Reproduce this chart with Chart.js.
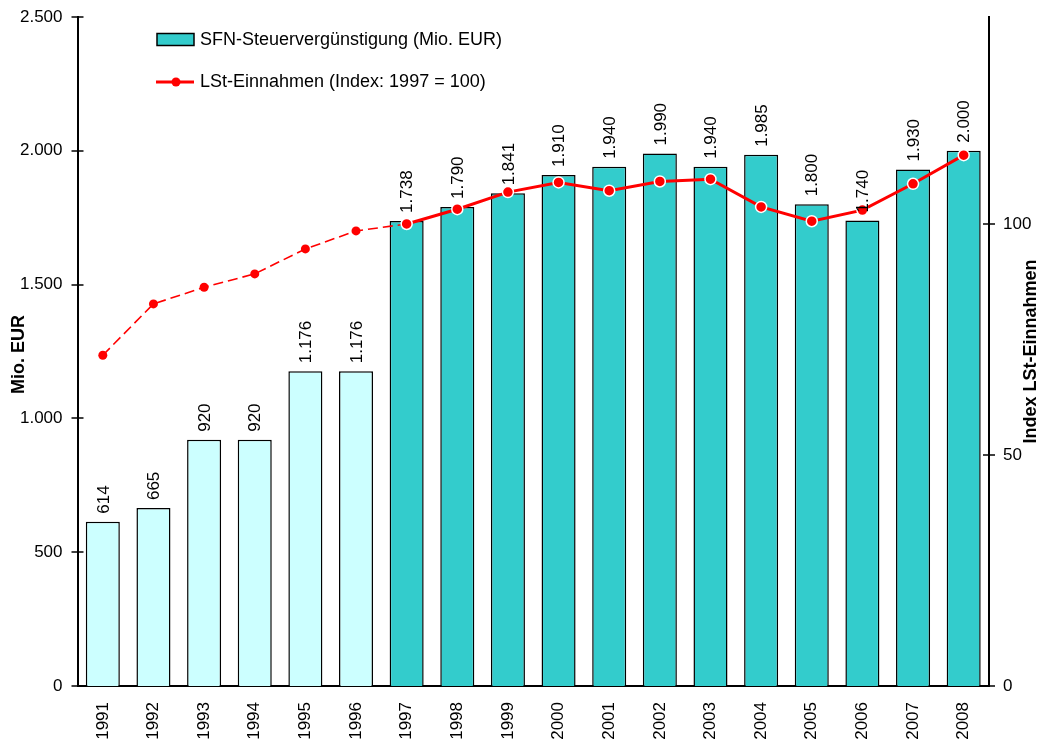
<!DOCTYPE html>
<html>
<head>
<meta charset="utf-8">
<script src="https://cdn.jsdelivr.net/npm/chart.js@4/dist/chart.umd.min.js"></script>
<style>
html,body{margin:0;padding:0;background:#fff;}
#wrap{width:1042px;height:742px;position:relative;}
</style>
</head>
<body>
<div id="wrap"><canvas id="c" width="1042" height="742"></canvas></div>
<script>
const years = ['1991','1992','1993','1994','1995','1996','1997','1998','1999','2000','2001','2002','2003','2004','2005','2006','2007','2008'];
const sfnValues = [614,665,920,920,1176,1176,1738,1790,1841,1910,1940,1990,1940,1985,1800,1740,1930,2000];
const lstIndex = [71.6,82.7,86.3,89.2,94.6,98.5,100,103.2,106.9,109.0,107.2,109.2,109.7,103.7,100.6,103.0,108.7,114.9];
const leftTicks = [0,500,1000,1500,2000,2500];
const rightTicks = [0,50,100];
const baseYearIdx = 6;
const barLabel = 'SFN-Steuervergünstigung (Mio. EUR)';
const lineLabel = 'LSt-Einnahmen (Index: 1997 = 100)';
const leftTitle = 'Mio. EUR';
const rightTitle = 'Index LSt-Einnahmen';

const FONT = '"Liberation Sans", Arial, sans-serif';
const fmt = v => String(v).replace(/\B(?=(\d{3})+(?!\d))/g, '.');

const barColors = years.map((y,i) => i < baseYearIdx ? '#CCFFFF' : '#33CCCC');
const dashedData = lstIndex.map((v,i) => i <= baseYearIdx ? v : null);
const solidData = lstIndex.map((v,i) => i >= baseYearIdx ? v : null);

const AREA = { left: 77.5, right: 989, top: 17, bottom: 686 };

const extrasPlugin = {
  id: 'extras',
  afterDatasetsDraw(chart) {
    const ctx = chart.ctx;
    const meta = chart.getDatasetMeta(2);
    ctx.save();
    ctx.fillStyle = '#000';
    ctx.font = '17px ' + FONT;
    ctx.textAlign = 'left';
    ctx.textBaseline = 'middle';
    meta.data.forEach((bar, i) => {
      ctx.save();
      ctx.translate(bar.x + 1, bar.y - 8);
      ctx.rotate(-Math.PI / 2);
      ctx.fillText(fmt(sfnValues[i]), 0, 0);
      ctx.restore();
    });
    ctx.restore();
  },
  afterDraw(chart) {
    const ctx = chart.ctx;
    const yl = chart.scales.y, yr = chart.scales.y1;
    ctx.save();
    ctx.strokeStyle = '#000';
    ctx.lineWidth = 1.5;
    leftTicks.forEach(v => {
      const p = Math.round(yl.getPixelForValue(v));
      ctx.beginPath(); ctx.moveTo(yl.right - 6, p); ctx.lineTo(yl.right + 6, p); ctx.stroke();
    });
    rightTicks.forEach(v => {
      const p = Math.round(yr.getPixelForValue(v));
      ctx.beginPath(); ctx.moveTo(yr.left - 6, p); ctx.lineTo(yr.left + 6, p); ctx.stroke();
    });
    ctx.fillStyle = '#000';
    ctx.font = 'bold 18px ' + FONT;
    ctx.textAlign = 'center';
    ctx.textBaseline = 'middle';
    const midY = (chart.chartArea.top + chart.chartArea.bottom) / 2;
    ctx.save();
    ctx.translate(1031, midY);
    ctx.rotate(-Math.PI / 2);
    ctx.fillText(rightTitle, 0, 0);
    ctx.restore();
    ctx.save();
    ctx.translate(19, midY + 3);
    ctx.rotate(-Math.PI / 2);
    ctx.fillText(leftTitle, 0, 0);
    ctx.restore();
    // legend
    ctx.lineWidth = 1.5;
    ctx.fillStyle = '#33CCCC';
    ctx.fillRect(157, 33.5, 37, 12);
    ctx.strokeStyle = '#000';
    ctx.strokeRect(157, 33.5, 37, 12);
    ctx.strokeStyle = '#FF0000';
    ctx.lineWidth = 3;
    ctx.beginPath(); ctx.moveTo(156, 82); ctx.lineTo(194, 82); ctx.stroke();
    ctx.fillStyle = '#FF0000';
    ctx.beginPath(); ctx.arc(176, 82, 4.5, 0, Math.PI * 2); ctx.fill();
    ctx.fillStyle = '#000';
    ctx.font = '18px ' + FONT;
    ctx.textAlign = 'left';
    ctx.fillText(barLabel, 200, 40);
    ctx.fillText(lineLabel, 200, 82);
    ctx.restore();
  }
};

function fixV(s, w) { s.width = w; s.paddingTop = 0; s.paddingBottom = 0; }

new Chart(document.getElementById('c'), {
  data: {
    labels: years,
    datasets: [
      {
        type: 'line', label: lineLabel, data: solidData, yAxisID: 'y1', order: 0,
        borderColor: '#FF0000', borderWidth: 3, tension: 0,
        pointRadius: 5.5, pointBackgroundColor: '#FF0000', pointBorderColor: '#FFFFFF', pointBorderWidth: 1.5,
        spanGaps: false
      },
      {
        type: 'line', label: lineLabel, data: dashedData, yAxisID: 'y1', order: 1,
        borderColor: '#FF0000', borderWidth: 1.6, borderDash: [10,5], tension: 0,
        pointRadius: dashedData.map((v,i) => i === baseYearIdx ? 0 : 4.5),
        pointBackgroundColor: '#FF0000', pointBorderColor: '#FF0000', pointBorderWidth: 0
      },
      {
        type: 'bar', label: barLabel, data: sfnValues, yAxisID: 'y', order: 2,
        backgroundColor: barColors, borderColor: '#000', borderWidth: 1.5,
        barPercentage: 0.672, categoryPercentage: 1.0
      }
    ]
  },
  options: {
    responsive: false,
    animation: false,
    devicePixelRatio: 1,
    layout: { padding: { top: AREA.top, left: 0, right: 0, bottom: 0 } },
    plugins: { legend: { display: false }, tooltip: { enabled: false } },
    scales: {
      x: {
        type: 'category',
        offset: true,
        grid: { display: false, drawTicks: false },
        border: { display: true, color: '#000', width: 2 },
        ticks: {
          color: '#000', font: { family: FONT, size: 17 },
          minRotation: 90, maxRotation: 90, padding: 16, autoSkip: false
        },
        afterFit(s) { s.height = 742 - AREA.bottom; s.paddingLeft = 0; s.paddingRight = 0; }
      },
      y: {
        position: 'left', min: 0, max: 2500,
        grid: { display: false, drawTicks: false },
        border: { display: true, color: '#000', width: 2 },
        ticks: {
          stepSize: 500, color: '#000', font: { family: FONT, size: 17 }, padding: 15,
          callback: v => fmt(v)
        },
        afterFit(s) { fixV(s, AREA.left); }
      },
      y1: {
        position: 'right', min: 0, max: 144.8,
        grid: { display: false, drawTicks: false },
        border: { display: true, color: '#000', width: 2 },
        afterBuildTicks(s) { s.ticks = rightTicks.map(v => ({ value: v })); },
        ticks: {
          color: '#000', font: { family: FONT, size: 17 }, padding: 14,
          callback: v => fmt(v)
        },
        afterFit(s) { fixV(s, 1042 - AREA.right); }
      }
    }
  },
  plugins: [extrasPlugin]
});
</script>
</body>
</html>
